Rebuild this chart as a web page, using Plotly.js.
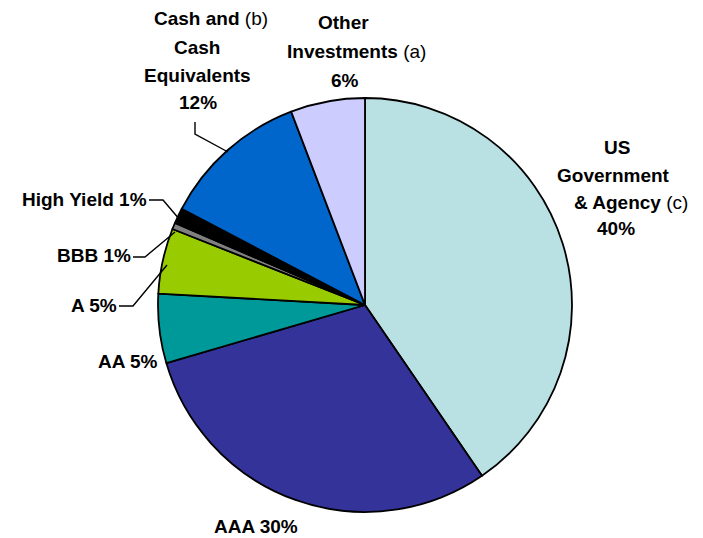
<!DOCTYPE html>
<html>
<head>
<meta charset="utf-8">
<script src="https://cdn.plot.ly/plotly-3.0.1.min.js"></script>
<style>html,body{margin:0;padding:0;background:#fff;}#chart{width:703px;height:538px;}</style>
</head>
<body>
<div id="chart"></div>
<script>
// Data (clockwise from 12 o'clock)
const categories = ["US Government & Agency", "AAA", "AA", "A", "BBB", "High Yield", "Cash and Cash Equivalents", "Other Investments"];
const shares = [40.4, 30.0, 5.4, 5.1, 0.5, 1.2, 11.5, 5.8];
const shareLabels = ["40%", "30%", "5%", "5%", "1%", "1%", "12%", "6%"];
const sliceColors = ["#B9E0E3", "#333399", "#009999", "#99CC00", "#808080", "#000000", "#0066CC", "#CCCCFF"];

const W = 703, H = 538;
const px = x => x / W;
const py = y => 1 - y / H;
const FONT = "Liberation Sans, Arial, sans-serif";
const FS = 19;

function ann(text, x, y, anchor) {
  return {text: text, x: px(x), y: py(y), xref: "paper", yref: "paper",
    xanchor: anchor || "center", yanchor: "middle", showarrow: false,
    font: {family: FONT, size: FS, color: "#000"}};
}
const b = s => "<b>" + s + "</b>";

const annotations = [
  ann(b("Cash and") + " (b)", 152, 18, "left"),
  ann(b("Cash"), 197, 47),
  ann(b("Equivalents"), 197, 75),
  ann(b(shareLabels[6]), 198, 102),
  ann(b("Other"), 343, 23),
  ann(b("Investments") + " (a)", 285, 52, "left"),
  ann(b(shareLabels[7]), 345, 80),
  ann(b("US"), 617, 147),
  ann(b("Government"), 613, 175),
  ann(b("& Agency") + " (c)", 572, 202, "left"),
  ann(b(shareLabels[0]), 616, 228),
  ann(b(categories[5] + " " + shareLabels[5]), 149, 199, "right"),
  ann(b(categories[4] + " " + shareLabels[4]), 133, 255, "right"),
  ann(b(categories[3] + " " + shareLabels[3]), 119, 305, "right"),
  ann(b(categories[2] + " " + shareLabels[2]), 160, 362, "right"),
  ann(b(categories[1] + " " + shareLabels[1]), 256, 526)
];

function leader(pts) {
  let d = "M " + px(pts[0][0]) + "," + py(pts[0][1]);
  for (let i = 1; i < pts.length; i++) d += " L " + px(pts[i][0]) + "," + py(pts[i][1]);
  return {type: "path", xref: "paper", yref: "paper", path: d, line: {color: "#000", width: 1.4}};
}
const shapes = [
  leader([[195, 122], [195, 134], [228, 152]]),
  leader([[149, 200], [163, 200], [180, 220]]),
  leader([[133, 257], [145, 257], [175, 232]]),
  leader([[119, 306], [133, 306], [167, 265]])
];

const trace = {
  type: "pie",
  labels: categories,
  values: shares,
  sort: false,
  direction: "clockwise",
  rotation: 0,
  textinfo: "none",
  marker: {colors: sliceColors, line: {color: "#000", width: 1.8}},
  domain: {x: [158 / W, 572 / W], y: [25 / H, 441 / H]},
  showlegend: false
};

Plotly.newPlot("chart", [trace], {
  width: W, height: H,
  margin: {l: 0, r: 0, t: 0, b: 0},
  paper_bgcolor: "#fff",
  plot_bgcolor: "#fff",
  showlegend: false,
  annotations: annotations,
  shapes: shapes
}, {displayModeBar: false, staticPlot: true});
</script>
</body>
</html>
